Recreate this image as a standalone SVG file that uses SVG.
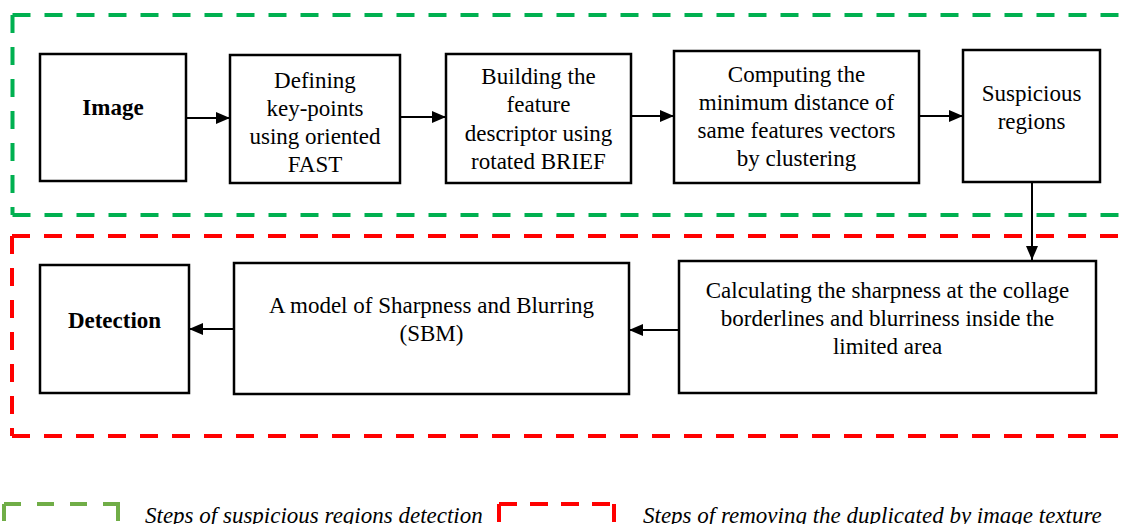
<svg xmlns="http://www.w3.org/2000/svg" width="1131" height="524" viewBox="0 0 1131 524">
<style>
.box{fill:#fff;stroke:#000;stroke-width:2.5}
.t{font-family:"Liberation Serif","Times New Roman",serif;font-size:23px;fill:#000;text-anchor:middle}
.b{font-weight:bold}
.leg{font-family:"Liberation Serif","Times New Roman",serif;font-size:23px;font-style:italic;fill:#000}
.gd{fill:none;stroke:#00B050;stroke-width:4;stroke-dasharray:18 14}
.rd{fill:none;stroke:#FF0000;stroke-width:4;stroke-dasharray:18 14}
.lg{fill:none;stroke:#70AD47;stroke-width:4;stroke-dasharray:17 16}
.lr{fill:none;stroke:#FF0000;stroke-width:4;stroke-dasharray:18 13}
.c{fill:none;stroke:#000;stroke-width:2;marker-end:url(#ah)}
</style>
<defs>
<marker id="ah" markerWidth="14" markerHeight="12" refX="14" refY="6" orient="auto" markerUnits="userSpaceOnUse">
<path d="M0,0 L14,6 L0,12 Z" fill="#000"/>
</marker>
</defs>
<rect width="1131" height="524" fill="#fff"/>
<g id="group-green">
<path class="gd" d="M12.5,15 H1140 M12.5,15 V215 M12.5,215 H1140"/>
</g>
<g id="group-red">
<path class="rd" d="M12,236 H1140 M12,236 V436 M12,436 H1140"/>
</g>
<g id="node-image">
<rect class="box" x="40" y="54" width="146" height="127"/>
<text class="t b" x="113" y="115">Image</text>
</g>
<g id="node-defining">
<rect class="box" x="230" y="55" width="170" height="128"/>
<text class="t" x="315" y="88">Defining</text>
<text class="t" x="315" y="116">key-points</text>
<text class="t" x="315" y="144">using oriented</text>
<text class="t" x="315" y="172">FAST</text>
</g>
<g id="node-building">
<rect class="box" x="446" y="54" width="185" height="129"/>
<text class="t" x="538.5" y="84">Building the</text>
<text class="t" x="538.5" y="112">feature</text>
<text class="t" x="538.5" y="141">descriptor using</text>
<text class="t" x="538.5" y="169">rotated BRIEF</text>
</g>
<g id="node-computing">
<rect class="box" x="674" y="51" width="245" height="132"/>
<text class="t" x="796.5" y="82">Computing the</text>
<text class="t" x="796.5" y="110">minimum distance of</text>
<text class="t" x="796.5" y="138">same features vectors</text>
<text class="t" x="796.5" y="166">by clustering</text>
</g>
<g id="node-suspicious">
<rect class="box" x="963" y="50" width="137" height="132"/>
<text class="t" x="1031.5" y="101">Suspicious</text>
<text class="t" x="1031.5" y="129">regions</text>
</g>
<g id="node-calculating">
<rect class="box" x="679" y="261" width="417" height="132"/>
<text class="t" x="887.5" y="298">Calculating the sharpness at the collage</text>
<text class="t" x="887.5" y="326">borderlines and blurriness inside the</text>
<text class="t" x="887.5" y="354">limited area</text>
</g>
<g id="node-sbm">
<rect class="box" x="234" y="263" width="395" height="131"/>
<text class="t" x="431.5" y="313">A model of Sharpness and Blurring</text>
<text class="t" x="431.5" y="341">(SBM)</text>
</g>
<g id="node-detection">
<rect class="box" x="40" y="265" width="149" height="128"/>
<text class="t b" x="114.5" y="328">Detection</text>
</g>
<g id="connectors">
<line class="c" x1="186" y1="118" x2="230" y2="118"/>
<line class="c" x1="400" y1="117" x2="446" y2="117"/>
<line class="c" x1="631" y1="116" x2="674" y2="116"/>
<line class="c" x1="919" y1="116" x2="963" y2="116"/>
<line class="c" x1="1032" y1="182" x2="1032" y2="260"/>
<line class="c" x1="679" y1="330" x2="629" y2="330"/>
<line class="c" x1="234" y1="329" x2="189" y2="329"/>
</g>
<g id="legend">
<path class="lg" d="M4,504 H120 M4,504 V540 M118,504 V540"/>
<text class="leg" x="145" y="523">Steps of suspicious regions detection</text>
<path class="lr" d="M499,504 H615 M499,504 V540 M614,504 V540"/>
<text class="leg" x="643" y="523">Steps of removing the duplicated by image texture</text>
</g>
</svg>
